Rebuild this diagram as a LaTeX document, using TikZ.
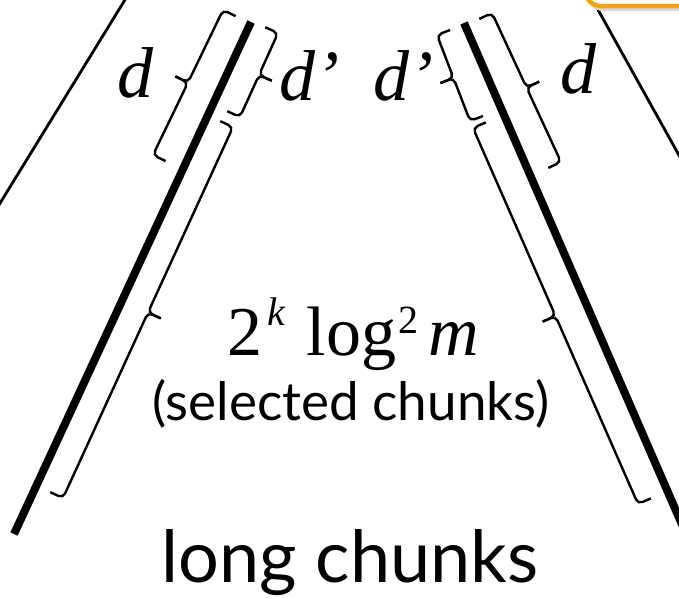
\documentclass[tikz,border=0pt]{standalone}
\usepackage{fontspec}
\setmainfont{Liberation Serif}
\newfontfamily\chunkfont{Lato}
\usetikzlibrary{calc}
\definecolor{boxorange}{RGB}{246,160,26}
% bracket with a middle tick: corners #1,#2, hook angle #3, tick angle #4
\newcommand{\chunkbrace}[4]{%
  \coordinate (mid) at ($(#1)!0.5!(#2)$);
  \coordinate (hk) at ($(#1)!14pt!#3:(#2)$);
  \coordinate (tk) at ($(mid)!14pt!#4:(#2)$);
  \draw[bracebar] (hk) -- (#1) -- (mid) -- (tk);
  \draw[bracebar] ($(#2)+(hk)-(#1)$) -- (#2) -- (mid) -- (tk);
}
\newcommand{\upidx}[2]{\raisebox{#1pt}{\fontsize{40}{40}\selectfont #2}}

\begin{document}
\begin{tikzpicture}[x=1pt, y=-1pt,
    thinline/.style={line width=2.8pt},
    thickline/.style={line width=8pt},
    bracebar/.style={line width=2.4pt, rounded corners=5pt},
    dlabel/.style={font=\fontsize{72}{72}\selectfont\itshape, inner sep=0pt}]
  \useasboundingbox (0,0) rectangle (679,598);
  \clip (0,0) rectangle (679,598);

  % outer edges
  \draw[thinline] (131,-10) -- (-6,213);
  \draw[thinline] (592,-1) -- (690,175);

  % orange box, cut off at the top right
  \fill[gray!30, rounded corners=16pt] (587,-60) rectangle (760,11);
  \draw[boxorange, line width=4.5pt, fill=white, rounded corners=16pt] (585,-60) rectangle (760,6);

  % thick chunk lines
  \coordinate (lt) at (251,22);
  \coordinate (lb) at (14,534);
  \coordinate (rt) at (464,23);
  \coordinate (rb) at (700,566);
  \draw[thickline] (lt) -- (lb);
  \draw[thickline] (rt) -- (rb);

  % brackets along the left line
  \chunkbrace{223,10}{153,155}{90}{-90}
  \chunkbrace{278,33}{240,117}{-90}{90}
  \chunkbrace{233,127}{63,498}{-90}{90}
  % brackets along the right line
  \chunkbrace{492,13}{561,162}{-90}{90}
  \chunkbrace{437,35}{470,121}{90}{-90}
  \chunkbrace{473,128}{638,504}{90}{-90}

  % labels
  \node[dlabel, anchor=base west] (dl) at (117,97) {d};
  \node[dlabel, anchor=base west] (dpl) at (279,100) {d’};
  \node[dlabel, anchor=base east] (dpr) at (434,100) {d’};
  \node[dlabel, anchor=base west] (dr) at (560,93) {d};
  \node[anchor=base west, inner sep=0pt, font=\fontsize{70}{70}\selectfont] (count) at (227,355)
    {2\hspace{5pt}\upidx{30}{\itshape k}\hspace{22pt}log\hspace{2pt}\upidx{22}{2}\hspace{10pt}\itshape m};
  \node[anchor=base, inner sep=0pt, font=\chunkfont\fontsize{53}{53}\selectfont] (sel) at (351,420) {(selected chunks)};
  \node[anchor=base, inner sep=0pt, font=\chunkfont\fontsize{72}{72}\selectfont] (long) at (350,582) {long chunks};
\end{tikzpicture}
\end{document}
